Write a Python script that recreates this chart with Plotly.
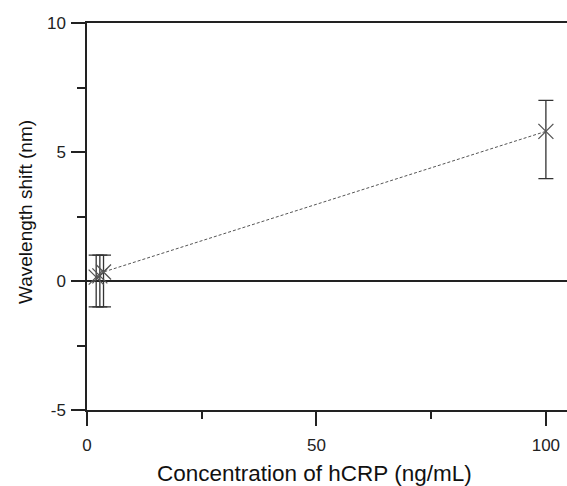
import plotly.graph_objects as go

conc = [2.0, 2.8, 3.6, 100.0]
shift = [0.15, 0.2, 0.35, 5.8]
err_plus = [0.85, 0.8, 0.65, 1.2]
err_minus = [1.15, 1.2, 1.35, 1.83]

x_ticks = [0, 50, 100]
y_ticks = [-5, 0, 5, 10]

fig = go.Figure()
fig.add_trace(go.Scatter(
    x=conc, y=shift, mode="lines+markers",
    line=dict(color="#555555", width=1, dash="3px,2px"),
    marker=dict(symbol="x-thin-open", size=15, line=dict(color="#222222", width=1.3)),
    error_y=dict(type="data", symmetric=False, array=err_plus, arrayminus=err_minus,
                 color="#333333", thickness=1.3, width=7.5),
    showlegend=False,
))

axis_font = dict(family="Liberation Sans, Arial, sans-serif", size=17, color="#222222")

fig.update_layout(
    width=567, height=486,
    margin=dict(l=87, r=0, t=23, b=76),
    paper_bgcolor="white", plot_bgcolor="white",
    font=axis_font,
    xaxis=dict(range=[0, 104.6], tickvals=x_ticks, ticktext=[str(v) for v in x_ticks],
               ticks="outside", ticklen=14, tickwidth=1.5, tickcolor="#222222",
               showline=True, linecolor="#222222", linewidth=1.5, mirror=True,
               showgrid=False, zeroline=False,
               minor=dict(dtick=25, tick0=0, ticks="outside", ticklen=7, tickwidth=1.5,
                          tickcolor="#222222", showgrid=False),
               tickfont=axis_font, ticklabelstandoff=5),
    yaxis=dict(range=[-5, 10], tickvals=y_ticks, ticktext=[str(v) for v in y_ticks],
               ticks="outside", ticklen=14, tickwidth=1.5, tickcolor="#222222",
               showline=True, linecolor="#222222", linewidth=1.5, mirror=False,
               showgrid=False, zeroline=True, zerolinecolor="#222222", zerolinewidth=1.5,
               minor=dict(dtick=2.5, tick0=0, ticks="outside", ticklen=8, tickwidth=1.5,
                          tickcolor="#222222", showgrid=False),
               tickfont=axis_font, ticklabelstandoff=2),
    annotations=[
        dict(text="Concentration of hCRP (ng/mL)", xref="paper", yref="paper",
             x=(314 - 87) / 480, y=(410 - 473) / 387, xanchor="center", yanchor="middle",
             showarrow=False, font=dict(family="Liberation Sans, Arial, sans-serif", size=22.5, color="#111111")),
        dict(text="Wavelength shift (nm)", xref="paper", yref="paper",
             x=(25 - 87) / 480, y=(410 - 212) / 387, xanchor="center", yanchor="middle", textangle=-90,
             showarrow=False, font=dict(family="Liberation Sans, Arial, sans-serif", size=19, color="#111111")),
    ],
)

fig.write_html("out.html")
